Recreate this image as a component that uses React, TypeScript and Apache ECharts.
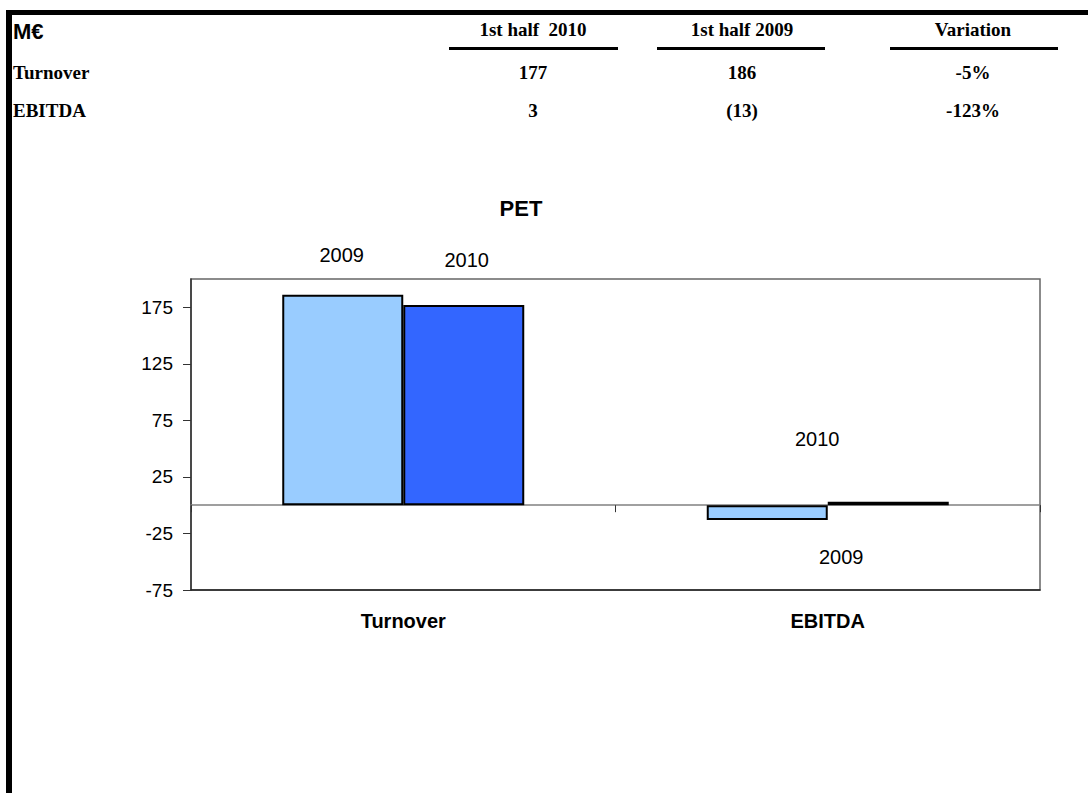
import React, { useEffect, useRef } from "react";
import * as echarts from "echarts";

// Figures for the PET division, first half of the year (M€)
const categories = ["Turnover", "EBITDA"];
const seriesNames = ["2009", "2010"];
const values2009 = [186, -13];
const values2010 = [177, 3];
const yTicks = [-75, -25, 25, 75, 125, 175];

// Summary table above the chart
const tableHeaders = ["1st half  2010", "1st half 2009", "Variation"];
const tableRowLabels = ["Turnover", "EBITDA"];
const tableRows = [
  ["177", "186", "-5%"],
  ["3", "(13)", "-123%"],
];

const SANS = "'Liberation Sans', Arial, sans-serif";
const SERIF = "'Liberation Serif', 'Times New Roman', serif";

// Column layout of the summary table
const colCenters = [533, 742, 973];
const colRules = [
  [449, 618],
  [657, 825],
  [890, 1058],
];
const rowY = [72, 110];

// Offsets of the series-name labels relative to each bar's centre
const labelOffsets2009 = [
  [-1, -145],
  [74, 44],
];
const labelOffsets2010 = [
  [3, -145],
  [-71, -64],
];

function buildGraphics() {
  const g: any[] = [];
  // heavy frame lines at top and left
  g.push({ type: "rect", shape: { x: 6, y: 10, width: 1082, height: 5 }, style: { fill: "#000" } });
  g.push({ type: "rect", shape: { x: 6, y: 10, width: 6, height: 783 }, style: { fill: "#000" } });
  g.push({
    type: "text",
    x: 13,
    y: 31,
    style: { text: "M€", font: `bold 22px ${SANS}`, fill: "#000", textAlign: "left", textVerticalAlign: "middle" },
  });
  tableHeaders.forEach((h, i) => {
    g.push({
      type: "text",
      x: colCenters[i],
      y: 29,
      style: { text: h, font: `bold 19px ${SERIF}`, fill: "#000", textAlign: "center", textVerticalAlign: "middle" },
    });
    g.push({
      type: "rect",
      shape: { x: colRules[i][0], y: 47, width: colRules[i][1] - colRules[i][0], height: 3 },
      style: { fill: "#000" },
    });
  });
  tableRowLabels.forEach((lab, r) => {
    g.push({
      type: "text",
      x: 13,
      y: rowY[r],
      style: { text: lab, font: `bold 19px ${SERIF}`, fill: "#000", textAlign: "left", textVerticalAlign: "middle" },
    });
    tableRows[r].forEach((v, c) => {
      g.push({
        type: "text",
        x: colCenters[c],
        y: rowY[r],
        style: { text: v, font: `bold 19px ${SERIF}`, fill: "#000", textAlign: "center", textVerticalAlign: "middle" },
      });
    });
  });
  g.push({
    type: "text",
    x: 521,
    y: 208,
    style: { text: "PET", font: `bold 22px ${SANS}`, fill: "#000", textAlign: "center", textVerticalAlign: "middle" },
  });
  return g;
}

function barData(values: number[], offsets: number[][]) {
  return values.map((v, i) => ({
    value: v,
    label: { offset: offsets[i] },
  }));
}

const nameLabel = {
  show: true,
  position: "inside",
  formatter: "{a}",
  color: "#000",
  fontFamily: SANS,
  fontSize: 20,
  textBorderWidth: 0,
};

export default function App() {
  const ref = useRef<HTMLDivElement>(null);

  useEffect(() => {
    if (!ref.current) return;
    const chart = echarts.init(ref.current, null, { renderer: "svg" });
    chart.setOption({
      animation: false,
      backgroundColor: "#fff",
      graphic: buildGraphics(),
      grid: {
        left: 191,
        top: 279,
        right: 48,
        bottom: 203,
        show: true,
        borderColor: "#666",
        borderWidth: 1.5,
        backgroundColor: "transparent",
      },
      xAxis: [
        {
          type: "category",
          data: categories,
          position: "bottom",
          axisLine: { onZero: false, lineStyle: { color: "#222", width: 1.5 } },
          axisTick: { show: false },
          axisLabel: {
            margin: 21,
            color: "#000",
            fontFamily: SANS,
            fontWeight: "bold",
            fontSize: 20,
          },
        },
        {
          type: "category",
          data: categories,
          position: "top",
          axisLine: { onZero: true, lineStyle: { color: "#808080", width: 1.5 } },
          axisTick: { show: true, inside: true, length: 7, lineStyle: { color: "#333", width: 1 } },
          axisLabel: { show: false },
        },
      ],
      yAxis: {
        type: "value",
        min: -75,
        max: 200,
        interval: 50,
        splitLine: { show: false },
        axisLine: { show: true, lineStyle: { color: "#333", width: 1.5 } },
        axisTick: { show: true, length: 8, lineStyle: { color: "#333" }, customValues: yTicks },
        axisLabel: {
          customValues: yTicks,
          margin: 18,
          color: "#000",
          fontFamily: SANS,
          fontSize: 19,
        },
      },
      series: [
        {
          name: seriesNames[0],
          type: "bar",
          xAxisIndex: 0,
          barWidth: 121,
          barGap: "0%",
          itemStyle: { color: "#99CCFF", borderColor: "#000", borderWidth: 2 },
          label: nameLabel,
          data: barData(values2009, labelOffsets2009),
        },
        {
          name: seriesNames[1],
          type: "bar",
          xAxisIndex: 0,
          barWidth: 121,
          barGap: "0%",
          itemStyle: { color: "#3366FF", borderColor: "#000", borderWidth: 2 },
          label: nameLabel,
          data: barData(values2010, labelOffsets2010),
        },
      ],
    });
    return () => chart.dispose();
  }, []);

  return (
    <div
      ref={ref}
      style={{ position: "fixed", left: 0, top: 0, width: 1088, height: 793, background: "#fff" }}
    />
  );
}
